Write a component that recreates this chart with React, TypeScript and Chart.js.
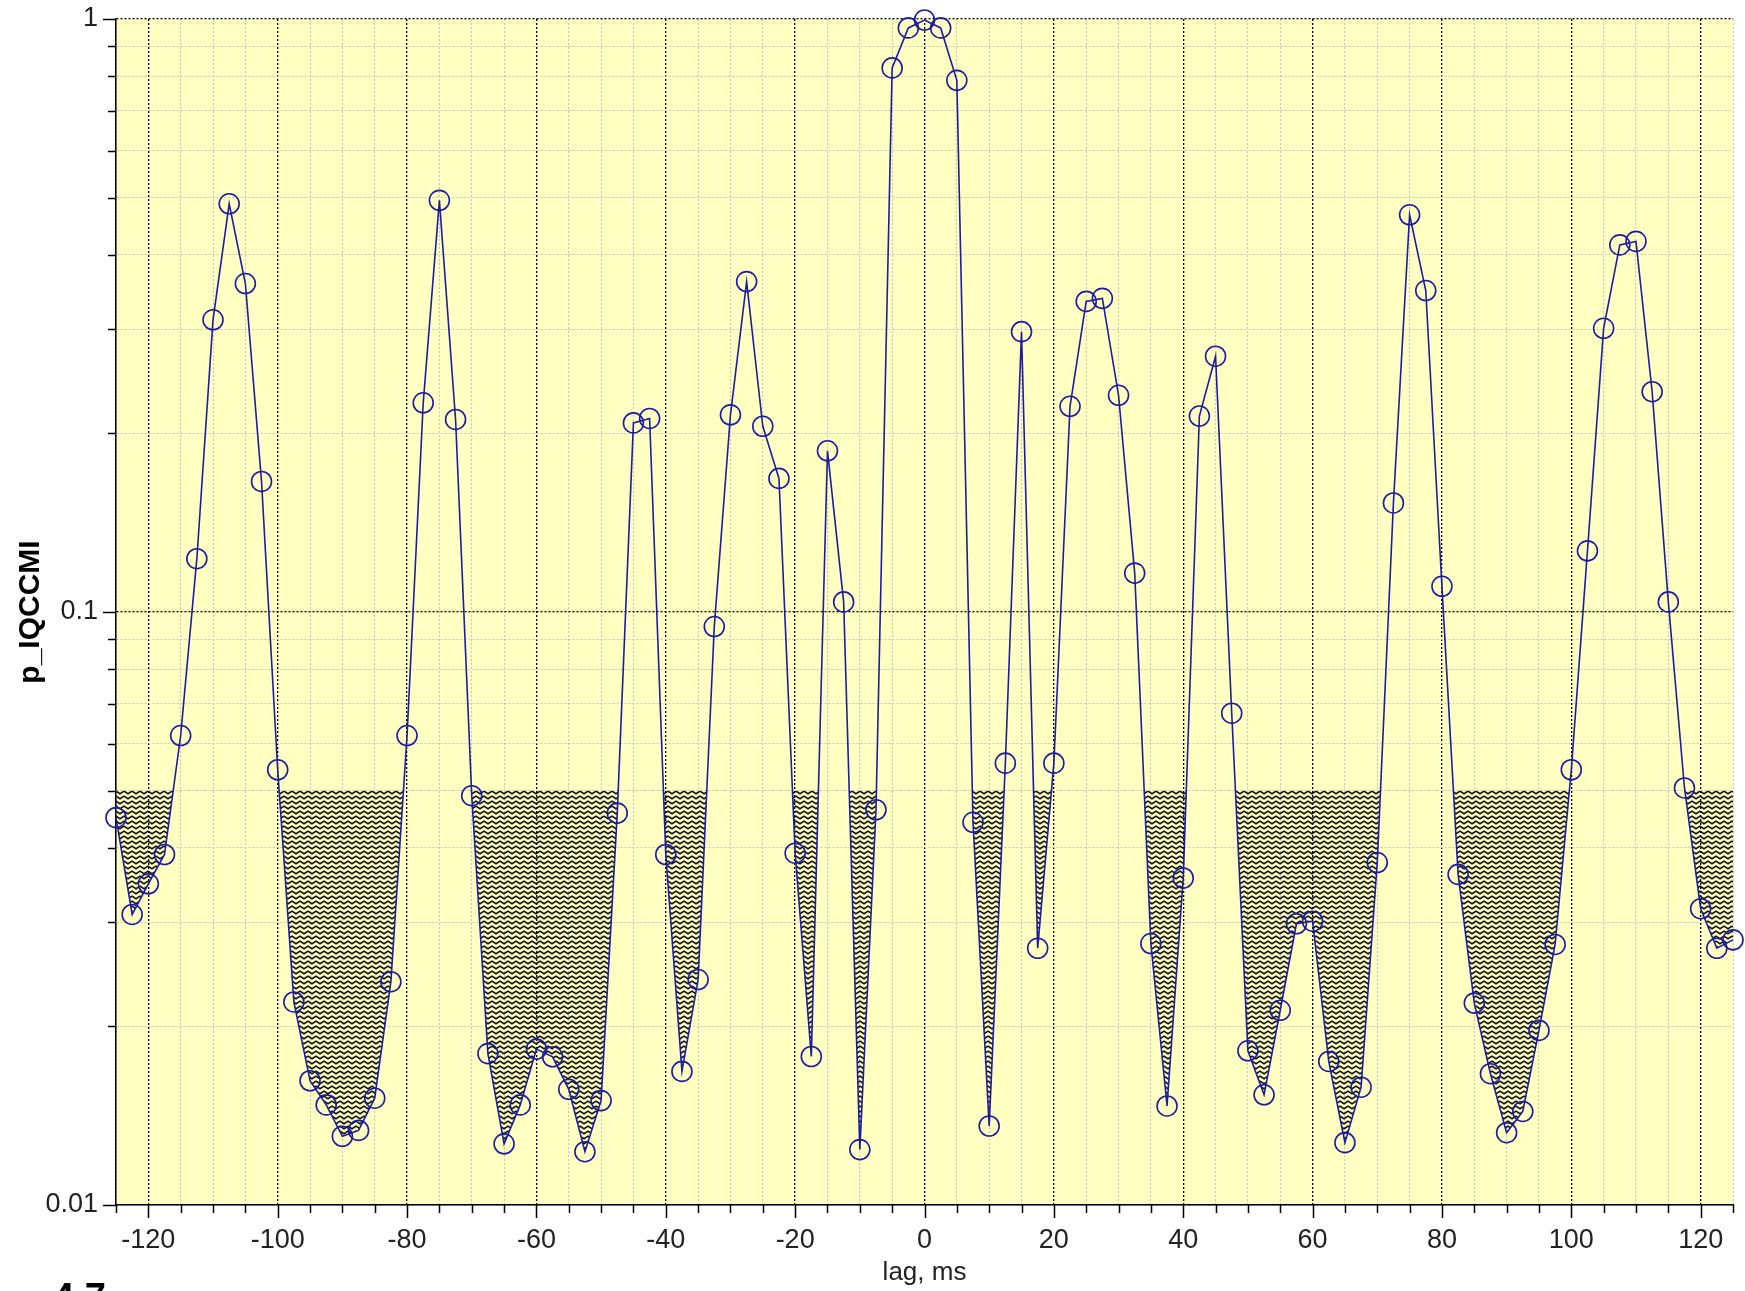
import React, { useEffect, useRef } from 'react';
import { Chart, registerables } from 'chart.js';

Chart.register(...registerables);

// ---------- data ----------
const lags: number[] = [
  -125, -122.5, -120, -117.5, -115, -112.5, -110, -107.5, -105, -102.5,
  -100, -97.5, -95, -92.5, -90, -87.5, -85, -82.5, -80, -77.5,
  -75, -72.5, -70, -67.5, -65, -62.5, -60, -57.5, -55, -52.5,
  -50, -47.5, -45, -42.5, -40, -37.5, -35, -32.5, -30, -27.5,
  -25, -22.5, -20, -17.5, -15, -12.5, -10, -7.5, -5, -2.5,
  0, 2.5, 5, 7.5, 10, 12.5, 15, 17.5, 20, 22.5,
  25, 27.5, 30, 32.5, 35, 37.5, 40, 42.5, 45, 47.5,
  50, 52.5, 55, 57.5, 60, 62.5, 65, 67.5, 70, 72.5,
  75, 77.5, 80, 82.5, 85, 87.5, 90, 92.5, 95, 97.5,
  100, 102.5, 105, 107.5, 110, 112.5, 115, 117.5, 120, 122.5,
  125,
];

const pIQCCMI: number[] = [
  0.045, 0.0309, 0.0348, 0.039, 0.0619, 0.123, 0.311, 0.488, 0.358, 0.166,
  0.0542, 0.022, 0.0162, 0.01475, 0.01306, 0.01336, 0.01514, 0.0238, 0.0619, 0.2253,
  0.4945, 0.2112, 0.049, 0.018, 0.01268, 0.01475, 0.01832, 0.01778, 0.01567, 0.0123,
  0.015, 0.0458, 0.2084, 0.212, 0.039, 0.0168, 0.024, 0.0945, 0.215, 0.3607,
  0.2057, 0.168, 0.0392, 0.0178, 0.187, 0.104, 0.0124, 0.0464, 0.827, 0.966,
  0.996, 0.966, 0.788, 0.0442, 0.01359, 0.0556, 0.297, 0.0271, 0.0556, 0.2223,
  0.334, 0.338, 0.232, 0.1163, 0.0276, 0.01469, 0.0356, 0.214, 0.27, 0.0675,
  0.0182, 0.01534, 0.0213, 0.0298, 0.0301, 0.01746, 0.01274, 0.0158, 0.0378, 0.1527,
  0.4676, 0.3484, 0.1105, 0.0361, 0.0219, 0.01665, 0.01324, 0.01438, 0.0197, 0.0275,
  0.0542, 0.1268, 0.3009, 0.416, 0.4217, 0.2352, 0.104, 0.0505, 0.0316, 0.0271,
  0.028,
];

const threshold = 0.05;

const xMajorTicks: number[] = [-120, -100, -80, -60, -40, -20, 0, 20, 40, 60, 80, 100, 120];
const xMinorStep = 5;
const xMin = -125;
const xMax = 125;

const yGridValues: number[] = [
  0.01, 0.02, 0.03, 0.04, 0.05, 0.06, 0.07, 0.08, 0.09,
  0.1, 0.2, 0.3, 0.4, 0.5, 0.6, 0.7, 0.8, 0.9, 1,
];
const yMajorValues: number[] = [0.01, 0.1, 1];
const yTickLabels: string[] = ['0.01', '0.1', '1'];

const xAxisTitle = 'lag, ms';
const yAxisTitle = 'p_IQCCMI';
const cornerLabel = '4.7';

// ---------- styles ----------
const W = 1745;
const H = 1291;
const plotBg = '#ffffc1';
const lineColor = '#1c1ca0';
const tickTextColor = '#222222';
const fontFamily = '"Liberation Sans", Arial, Helvetica, sans-serif';

const isYMajor = (v: number) => yMajorValues.some((m) => Math.abs(m - v) / m < 1e-6);
const isXMajor = (v: number) => xMajorTicks.includes(v);

function makeHatch(): CanvasPattern | string {
  const c = document.createElement('canvas');
  c.width = 8;
  c.height = 5;
  const g = c.getContext('2d');
  if (!g) return 'rgba(0,0,0,0.5)';
  g.strokeStyle = '#111111';
  g.lineWidth = 1.6;
  g.beginPath();
  g.moveTo(-4, 1.1);
  g.lineTo(0, 3.8);
  g.lineTo(4, 1.1);
  g.lineTo(8, 3.8);
  g.lineTo(12, 1.1);
  g.stroke();
  return g.createPattern(c, 'repeat') || 'rgba(0,0,0,0.5)';
}

const decoPlugin = {
  id: 'deco',
  beforeDraw(chart: any) {
    const { ctx, chartArea: a } = chart;
    ctx.save();
    ctx.fillStyle = plotBg;
    ctx.fillRect(a.left, a.top, a.right - a.left, a.bottom - a.top);
    ctx.restore();
  },
  afterDraw(chart: any) {
    const { ctx, chartArea: a, scales } = chart;
    const x = scales.x;
    const y = scales.y;
    ctx.save();
    ctx.strokeStyle = '#000';
    ctx.lineWidth = 1.5;
    ctx.beginPath();
    x.ticks.forEach((t: any) => {
      const px = Math.round(x.getPixelForValue(t.value)) + 0.5;
      const len = isXMajor(t.value) ? 13 : 8;
      ctx.moveTo(px, a.bottom);
      ctx.lineTo(px, a.bottom + len);
    });
    y.ticks.forEach((t: any) => {
      const py = Math.round(y.getPixelForValue(t.value)) + 0.5;
      const len = isYMajor(t.value) ? 13 : 8;
      ctx.moveTo(a.left - len, py);
      ctx.lineTo(a.left, py);
    });
    ctx.stroke();
    ctx.restore();
  },
};

export default function App() {
  const canvasRef = useRef<HTMLCanvasElement | null>(null);

  useEffect(() => {
    document.body.style.margin = '0';
    const canvas = canvasRef.current;
    if (!canvas) return;
    const hatch = makeHatch();

    const chart = new Chart(canvas, {
      type: 'line',
      data: {
        datasets: [
          {
            data: lags.map((lx, i) => ({ x: lx, y: pIQCCMI[i] })),
            borderColor: lineColor,
            borderWidth: 1.6,
            backgroundColor: 'rgba(0,0,0,0)',
            pointRadius: 10,
            pointHoverRadius: 10,
            pointBorderWidth: 1.6,
            pointBorderColor: lineColor,
            pointBackgroundColor: 'rgba(0,0,0,0)',
            tension: 0,
            clip: false as any,
            fill: {
              target: { value: threshold },
              above: 'rgba(0,0,0,0)',
              below: hatch as any,
            },
          } as any,
        ],
      },
      options: {
        responsive: false,
        animation: false,
        events: [],
        layout: { padding: { top: 19, right: 12, left: 0, bottom: 0 } },
        plugins: {
          legend: { display: false },
          tooltip: { enabled: false },
          title: { display: false },
        },
        scales: {
          x: {
            type: 'linear',
            min: xMin,
            max: xMax,
            afterFit(s: any) {
              s.height = 86;
              s.paddingLeft = 0;
              s.paddingRight = 0;
              s.paddingTop = 0;
              s.paddingBottom = 0;
            },
            afterBuildTicks(s: any) {
              const t: any[] = [];
              for (let v = xMin; v <= xMax; v += xMinorStep) t.push({ value: v });
              s.ticks = t;
            },
            ticks: {
              autoSkip: false,
              maxRotation: 0,
              minRotation: 0,
              padding: 19,
              color: tickTextColor,
              font: { family: fontFamily, size: 27 },
              callback: (v: any) => (isXMajor(Number(v)) ? String(v) : ''),
            },
            grid: {
              drawTicks: false,
              color: (c: any) => (c.tick && isXMajor(c.tick.value) ? '#000000' : '#c4c4c4'),
              lineWidth: (c: any) => (c.tick && isXMajor(c.tick.value) ? 1.3 : 1),
            },
            border: { display: true, color: '#000', width: 1.5, dash: [2, 2] },
            title: {
              display: true,
              text: xAxisTitle,
              color: tickTextColor,
              font: { family: fontFamily, size: 26 },
              padding: { top: 0, bottom: 3 },
            },
          },
          y: {
            type: 'logarithmic',
            min: 0.01,
            max: 1,
            afterFit(s: any) {
              s.width = 116;
              s.paddingLeft = 0;
              s.paddingRight = 0;
              s.paddingTop = 0;
              s.paddingBottom = 0;
            },
            afterBuildTicks(s: any) {
              s.ticks = yGridValues.map((v) => ({ value: v }));
            },
            ticks: {
              autoSkip: false,
              padding: 18,
              color: tickTextColor,
              font: { family: fontFamily, size: 27 },
              callback: (v: any) => {
                const n = Number(v);
                const i = yMajorValues.findIndex((m) => Math.abs(m - n) / m < 1e-6);
                return i >= 0 ? yTickLabels[i] : '';
              },
            },
            grid: {
              drawTicks: false,
              color: (c: any) => (c.tick && isYMajor(c.tick.value) ? '#000000' : '#c4c4c4'),
              lineWidth: (c: any) => (c.tick && isYMajor(c.tick.value) ? 1.3 : 1),
            },
            border: { display: true, color: '#000', width: 1.5, dash: [2, 2] },
            title: {
              display: true,
              text: yAxisTitle,
              color: '#000',
              font: { family: fontFamily, size: 30, weight: 'bold' },
              padding: { top: 13, bottom: 0 },
            },
          },
        },
      } as any,
      plugins: [decoPlugin as any],
    });

    return () => {
      chart.destroy();
    };
  }, []);

  return (
    <div style={{ position: 'relative', width: W, height: H, overflow: 'hidden', background: '#fff' }}>
      <canvas ref={canvasRef} width={W} height={H} style={{ display: 'block', width: W, height: H }} />
      <div
        style={{
          position: 'absolute',
          left: 53,
          top: 1278,
          fontFamily,
          fontWeight: 'bold',
          fontSize: 38,
          lineHeight: '38px',
          color: '#000',
          whiteSpace: 'nowrap',
        }}
      >
        {cornerLabel}
      </div>
    </div>
  );
}
